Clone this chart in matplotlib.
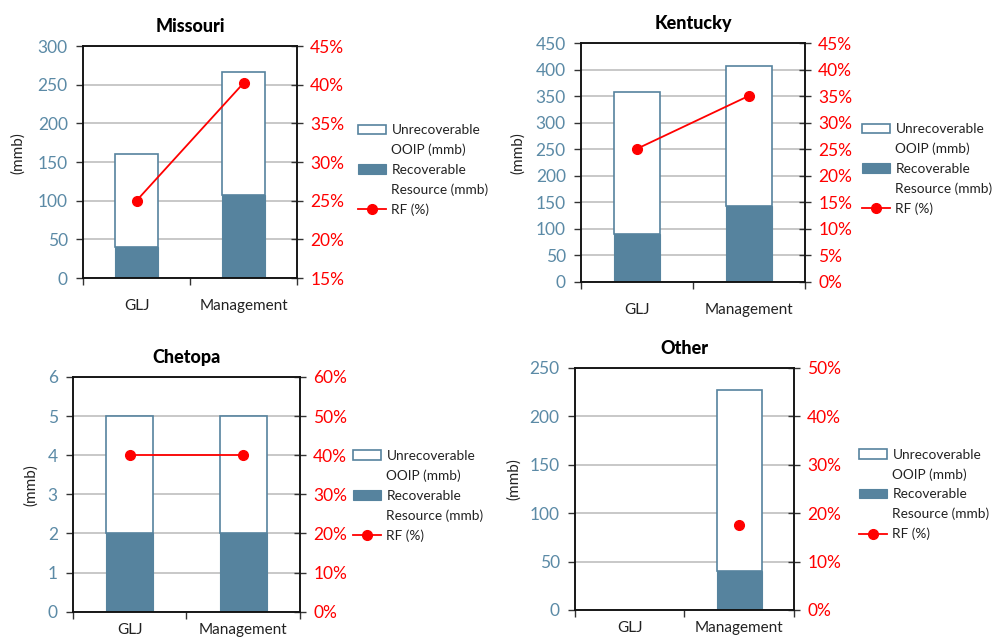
import numpy as np
import matplotlib
matplotlib.use("Agg")
import matplotlib.pyplot as plt
from matplotlib.ticker import MultipleLocator, FixedLocator, FuncFormatter
from matplotlib.patches import Patch

plt.rcParams["font.family"] = ["Lato", "DejaVu Sans"]

categories = ["GLJ", "Management"]

missouri_recoverable = [40, 107]
missouri_unrecoverable = [120, 159]
missouri_rf = [25.0, 40.2]

kentucky_recoverable = [90, 143]
kentucky_unrecoverable = [268, 264]
kentucky_rf = [25.1, 35.1]

chetopa_recoverable = [2, 2]
chetopa_unrecoverable = [3, 3]
chetopa_rf = [40.0, 40.0]

other_recoverable = [np.nan, 40]
other_unrecoverable = [np.nan, 187]
other_rf = [np.nan, 17.6]

BAR = "#56839e"
TICK_BLUE = "#5b8aa6"
RED = "#ff0000"

fig = plt.figure(figsize=(9.92, 6.41), dpi=100)

panels = [
    # title, rec, unrec, rf, left ylim/step, right ylim/step, axes rect,
    # ylabel x, legend anchor, category label pad
    ("Missouri", missouri_recoverable, missouri_unrecoverable, missouri_rf,
     (0, 300, 50), (15, 45, 5), [0.0837, 0.5663, 0.2157, 0.3619], -0.27, (0.361, 0.806), 15),
    ("Kentucky", kentucky_recoverable, kentucky_unrecoverable, kentucky_rf,
     (0, 450, 50), (0, 45, 5), [0.5857, 0.5605, 0.2258, 0.3719], -0.25, (0.869, 0.808), 15),
    ("Chetopa", chetopa_recoverable, chetopa_unrecoverable, chetopa_rf,
     (0, 6, 1), (0, 60, 10), [0.0736, 0.0457, 0.2288, 0.3662], -0.155, (0.356, 0.298), 8),
    ("Other", other_recoverable, other_unrecoverable, other_rf,
     (0, 250, 50), (0, 50, 10), [0.5796, 0.0484, 0.2208, 0.3775], -0.247, (0.866, 0.300), 8),
]

x = np.arange(len(categories))
width = 0.41

for title, rec, unrec, rf, lax, rax, rect, ylx, leg_anchor, catpad in panels:
    ax = fig.add_axes(rect)
    ax.set_xlim(-0.5, 1.5)
    ax.set_ylim(lax[0], lax[1])
    ax.yaxis.set_major_locator(MultipleLocator(lax[2]))
    ax.set_axisbelow(True)
    ax.grid(axis="y", color="#c4c4c4", linewidth=1.3)

    rec_arr = np.array(rec, dtype=float)
    unrec_arr = np.array(unrec, dtype=float)
    b1 = ax.bar(x, rec_arr, width, color=BAR, edgecolor=BAR, linewidth=0.8,
                label="Recoverable\nResource (mmb)", zorder=2)
    b2 = ax.bar(x, unrec_arr, width, bottom=rec_arr, facecolor="white",
                edgecolor=BAR, linewidth=1.2, label="Unrecoverable\nOOIP (mmb)", zorder=2)

    # category names centred on the bars, tick marks on the category boundaries
    ax.xaxis.set_major_locator(FixedLocator([-0.5, 0.5, 1.5]))
    ax.xaxis.set_major_formatter(FuncFormatter(lambda v, p: ""))
    ax.set_xticks(x, minor=True)
    ax.set_xticklabels(categories, minor=True)
    ax.tick_params(axis="x", which="major", direction="out", length=5, width=1, color="#333333")
    ax.tick_params(axis="x", which="minor", length=0, pad=catpad, labelsize=11, labelcolor="#222222")
    ax.tick_params(axis="y", direction="out", length=5, width=1, color="#333333",
                   labelsize=12.5, labelcolor=TICK_BLUE, pad=6)

    for s in ax.spines.values():
        s.set_color("#111111")
        s.set_linewidth(1.1)

    ax.set_ylabel("(mmb)", fontsize=11, color="#222222")
    ax.yaxis.set_label_coords(ylx, 0.54)
    ax.set_title(title, fontsize=13, fontweight="black", pad=10)

    ax2 = ax.twinx()
    ax2.set_ylim(rax[0], rax[1])
    ax2.yaxis.set_major_locator(MultipleLocator(rax[2]))
    ax2.yaxis.set_major_formatter(FuncFormatter(lambda v, p: f"{v:.0f}%"))
    ax2.tick_params(axis="y", direction="inout", length=9, width=1, color="#333333",
                    labelsize=12.5, labelcolor=RED, pad=5)
    for s in ax2.spines.values():
        s.set_color("#111111")
        s.set_linewidth(1.1)
    ln, = ax2.plot(x, rf, color=RED, linewidth=1.3, marker="o", markersize=7,
                   label="RF (%)", zorder=3)

    blank = Patch(facecolor="none", edgecolor="none")
    handles = [b2, blank, b1, blank, ln]
    labels = ["Unrecoverable", "OOIP (mmb)", "Recoverable", "Resource (mmb)", "RF (%)"]
    fig.legend(handles, labels, loc="upper left", bbox_to_anchor=leg_anchor,
               bbox_transform=fig.transFigure, frameon=False, fontsize=9.8,
               handlelength=2.05, handletextpad=0.4, labelspacing=0.55,
               borderpad=0, borderaxespad=0, labelcolor="#222222")

fig.savefig("out.png", dpi=100)
